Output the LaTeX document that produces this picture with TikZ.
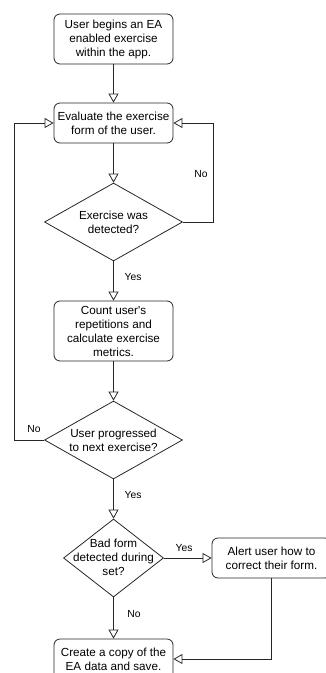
\documentclass[tikz,border=0pt]{standalone}
\usepackage{fontspec}
\setmainfont{Liberation Sans}
\usetikzlibrary{shapes.geometric,arrows.meta}
\begin{document}
\begin{tikzpicture}[x=1pt,y=-1pt,
  line width=0.8pt,
  proc/.style={draw=black!85, rounded corners=6pt, minimum width=119pt, align=center, inner sep=0pt, font=\fontsize{11.7}{14}\selectfont},
  dec/.style={draw=black!85, diamond, inner sep=0pt},
  dtext/.style={align=center, font=\fontsize{11.7}{14}\selectfont, inner sep=0pt},
  lbl/.style={font=\fontsize{10.3}{12}\selectfont, inner sep=0pt},
  flow/.style={draw=black!85, -{Triangle[open,length=9pt,width=10pt]}}
]
\clip (0,0) rectangle (326,673);
\useasboundingbox (0,0) rectangle (326,673);

\node[proc, minimum height=50pt] (b1) at (113.5,39) {User begins an EA\\enabled exercise\\within the app.};
\node[proc, minimum height=40pt] (b2) at (113.5,123) {Evaluate the exercise\\form of the user.};
\node[dec, minimum width=138pt, minimum height=78pt] (d1) at (113.5,222) {};
\node[dtext] at (113.5,222) {Exercise was\\detected?};
\node[proc, minimum height=60pt] (b3) at (113.5,331) {Count user\textquotesingle s\\repetitions and\\calculate exercise\\metrics.};
\node[dec, minimum width=138pt, minimum height=78pt] (d2) at (113.5,440) {};
\node[dtext] at (113.5,440) {User progressed\\to next exercise?};
\node[dec, minimum width=100pt, minimum height=78pt] (d3) at (113.5,558) {};
\node[dtext] at (113.5,557) {Bad form\\detected during\\set?};
\node[proc, minimum height=40pt] (b4) at (271.5,558) {Alert user how to\\correct their form.};
\node[proc, minimum height=40pt] (b5) at (113.5,659) {Create a copy of the\\EA data and save.};

\draw[flow] (b1.south) -- (b2.north);
\draw[flow] (b2.south) -- (d1.north);
\draw[flow] (d1.east) -- ++(30,0) |- (b2.east);
\draw[flow] (d1.south) -- (b3.north);
\draw[flow] (b3.south) -- (d2.north);
\draw[flow] (d2.west) -- ++(-30,0) |- (b2.west);
\draw[flow] (d2.south) -- (d3.north);
\draw[flow] (d3.east) -- (b4.west);
\draw[flow] (d3.south) -- (b5.north);
\draw[flow] (b4.south) |- (b5.east);

\node[lbl] (l1) at (201,174) {No};
\node[lbl] (l2) at (133,277) {Yes};
\node[lbl] (l3) at (34,429) {No};
\node[lbl] (l4) at (133,495) {Yes};
\node[lbl] (l5) at (184,548) {Yes};
\node[lbl] (l6) at (134,614) {No};
\end{tikzpicture}
\end{document}
